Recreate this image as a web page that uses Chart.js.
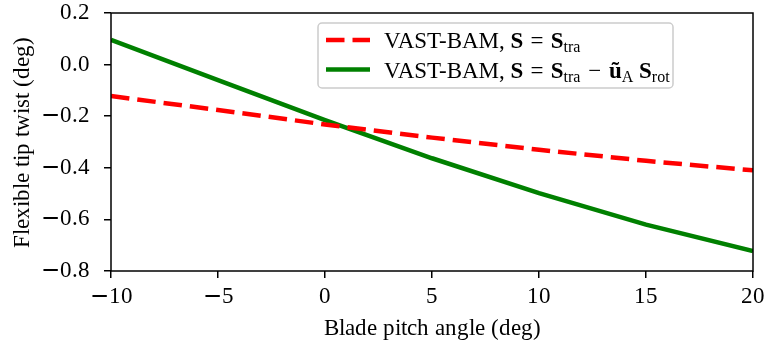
<!DOCTYPE html>
<html>
<head>
<meta charset="utf-8">
<script src="https://cdn.jsdelivr.net/npm/chart.js@4.4.0/dist/chart.umd.min.js"></script>
<style>
  html, body { margin: 0; padding: 0; background: #fff; }
  /* wider math-style minus for tick labels, rest from Liberation Serif */
  @font-face { font-family: 'PlotSerif'; src: local('DejaVu Serif'); unicode-range: U+2212; }
  @font-face { font-family: 'PlotSerif'; src: local('Liberation Serif'); unicode-range: U+0000-2211, U+2213-FFFF; }
</style>
</head>
<body>
<canvas id="twist-chart" width="766" height="348"></canvas>
<script>
const pitchAngles = [-10, -5, 0, 5, 10, 15, 20];
const twistStra = [-0.122, -0.176, -0.232, -0.283, -0.330, -0.373, -0.410];
const twistStraRot = [0.096, -0.060, -0.215, -0.363, -0.498, -0.620, -0.723];
const xTickValues = [-10, -5, 0, 5, 10, 15, 20];
const yTickValues = [-0.8, -0.6, -0.4, -0.2, 0.0, 0.2];

const SERIF = 'PlotSerif, "Liberation Serif", "DejaVu Serif", serif';
const LEGEND_SERIF = '"Liberation Serif", serif';
const FONT_SIZE = 23;

const fmt = (v, digits) => {
  const s = Math.abs(v).toFixed(digits);
  return (v < -1e-9 ? '\u2212' : '') + s;
};

// legend rows: segments of mixed regular / bold / subscript text
const legendRows = [
  { color: '#ff0000', dash: [18.5, 8], parts: [
    { t: 'VAST-BAM, ' }, { t: 'S', b: true }, { t: ' = ', gap: 1.5 }, { t: 'S', b: true }, { t: 'tra', sub: true }
  ] },
  { color: '#008000', dash: [], parts: [
    { t: 'VAST-BAM, ' }, { t: 'S', b: true }, { t: ' = ', gap: 1.5 }, { t: 'S', b: true }, { t: 'tra', sub: true },
    { t: ' \u2212 ', gap: 2 }, { t: '\u0169', b: true }, { t: 'A', sub: true }, { t: ' ' }, { t: 'S', b: true }, { t: 'rot', sub: true }
  ] }
];

function roundRect(ctx, x, y, w, h, r) {
  ctx.beginPath();
  ctx.moveTo(x + r, y);
  ctx.lineTo(x + w - r, y);
  ctx.arcTo(x + w, y, x + w, y + r, r);
  ctx.lineTo(x + w, y + h - r);
  ctx.arcTo(x + w, y + h, x + w - r, y + h, r);
  ctx.lineTo(x + r, y + h);
  ctx.arcTo(x, y + h, x, y + h - r, r);
  ctx.lineTo(x, y + r);
  ctx.arcTo(x, y, x + r, y, r);
  ctx.closePath();
}

const framePlugin = {
  id: 'frame',
  afterDatasetsDraw(chart) {
    const { ctx, chartArea: a } = chart;
    ctx.save();
    ctx.strokeStyle = '#000';
    ctx.lineWidth = 1.5;
    ctx.strokeRect(a.left, a.top, a.right - a.left, a.bottom - a.top);
    ctx.restore();
  }
};

const legendPlugin = {
  id: 'mplLegend',
  afterDraw(chart) {
    const ctx = chart.ctx;
    ctx.save();
    roundRect(ctx, 318, 23, 355, 65, 4);
    ctx.fillStyle = 'rgba(255,255,255,0.8)';
    ctx.fill();
    ctx.strokeStyle = '#cccccc';
    ctx.lineWidth = 1.5;
    ctx.stroke();

    legendRows.forEach((row, i) => {
      const ly = 40 + i * 29.5;
      ctx.beginPath();
      ctx.setLineDash(row.dash);
      ctx.strokeStyle = row.color;
      ctx.lineWidth = 4.5;
      ctx.moveTo(326, ly);
      ctx.lineTo(370, ly);
      ctx.stroke();
      ctx.setLineDash([]);

      let x = 384;
      const base = 48 + i * 30;
      ctx.fillStyle = '#000';
      ctx.textBaseline = 'alphabetic';
      ctx.textAlign = 'left';
      row.parts.forEach((p) => {
        const size = p.sub ? 16 : FONT_SIZE;
        const gap = p.gap || 0;
        ctx.font = (p.b ? 'bold ' : '') + size + 'px ' + LEGEND_SERIF;
        ctx.fillText(p.t, x + gap, base + (p.sub ? 4 : 0));
        x += ctx.measureText(p.t).width + 2 * gap;
      });
    });
    ctx.restore();
  }
};

const axisFont = { family: SERIF, size: FONT_SIZE, lineHeight: 1.1 };

function drawChart() {
  new Chart(document.getElementById('twist-chart'), {
    type: 'line',
    data: {
      datasets: [
        {
          label: 'VAST-BAM, S = Stra',
          data: pitchAngles.map((x, i) => ({ x, y: twistStra[i] })),
          borderColor: '#ff0000',
          borderWidth: 4.5,
          borderDash: [18.5, 8],
          pointRadius: 0,
          tension: 0,
          fill: false
        },
        {
          label: 'VAST-BAM, S = Stra − ũA Srot',
          data: pitchAngles.map((x, i) => ({ x, y: twistStraRot[i] })),
          borderColor: '#008000',
          borderWidth: 4.5,
          pointRadius: 0,
          tension: 0,
          fill: false
        }
      ]
    },
    options: {
      responsive: false,
      devicePixelRatio: 1,
      animation: false,
      layout: { padding: { top: 13, right: 13, left: 0, bottom: 0 } },
      plugins: { legend: { display: false }, tooltip: { enabled: false } },
      scales: {
        x: {
          type: 'linear',
          min: -10,
          max: 20,
          afterBuildTicks: (axis) => { axis.ticks = xTickValues.map((v) => ({ value: v })); },
          afterFit: (axis) => { axis.height = 77; axis.paddingLeft = 0; axis.paddingRight = 0; },
          ticks: {
            font: axisFont,
            color: '#000',
            padding: 6,
            maxRotation: 0,
            callback: (v) => fmt(v, 0)
          },
          grid: { drawOnChartArea: false, drawTicks: true, tickLength: 7, color: '#000', lineWidth: 1.5 },
          border: { display: false },
          title: { display: true, text: 'Blade pitch angle (deg)', font: axisFont, color: '#000', padding: { top: 0, bottom: 6 } }
        },
        y: {
          min: -0.8,
          max: 0.2,
          afterBuildTicks: (axis) => { axis.ticks = yTickValues.map((v) => ({ value: v })); },
          afterFit: (axis) => { axis.width = 111; axis.paddingTop = 0; axis.paddingBottom = 0; },
          ticks: {
            font: axisFont,
            color: '#000',
            padding: 14,
            callback: (v) => fmt(v, 1)
          },
          grid: { drawOnChartArea: false, drawTicks: true, tickLength: 7, color: '#000', lineWidth: 1.5 },
          border: { display: false },
          title: { display: true, text: 'Flexible tip twist (deg)', font: axisFont, color: '#000', padding: { top: 10, bottom: 0 } }
        }
      }
    },
    plugins: [framePlugin, legendPlugin]
  });
}

document.fonts.load(FONT_SIZE + 'px PlotSerif', '\u22120.8 Blade')
  .catch(() => {})
  .then(drawChart);
</script>
</body>
</html>
